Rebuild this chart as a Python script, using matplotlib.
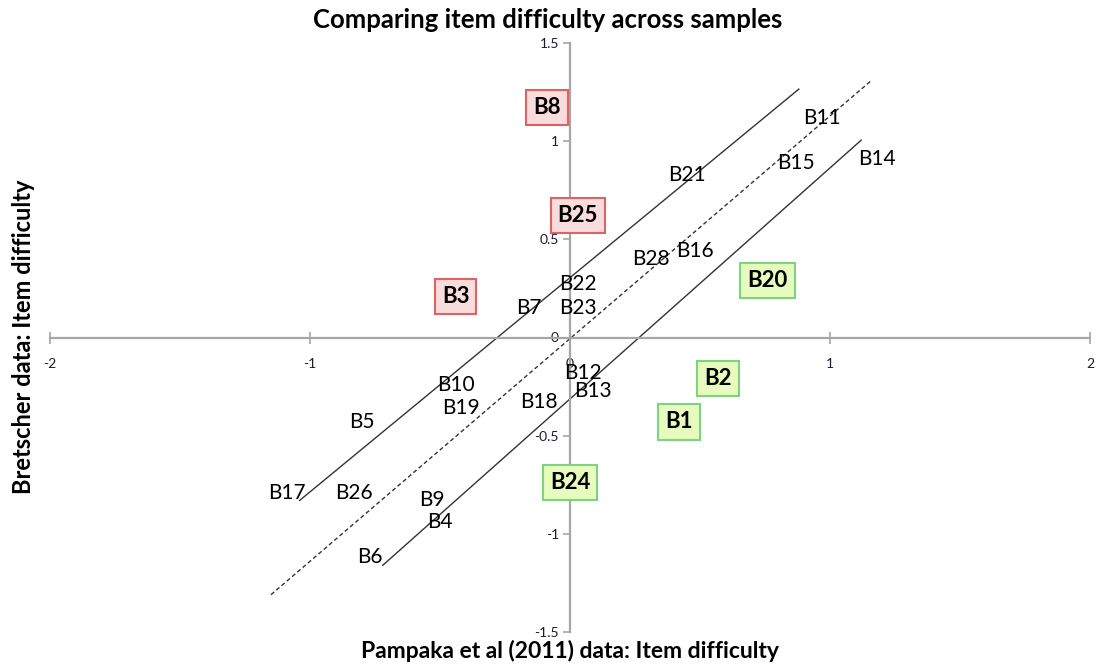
import matplotlib
matplotlib.use("Agg")
import matplotlib.pyplot as plt

plt.rcParams['font.family'] = ['Lato', 'DejaVu Sans']

# Item difficulty estimates: (Pampaka et al 2011, Bretscher)
items = ["B8", "B25", "B3", "B22", "B23", "B7", "B21", "B28", "B16", "B11",
         "B15", "B14", "B20", "B2", "B1", "B24", "B12", "B13", "B18", "B10",
         "B19", "B5", "B17", "B26", "B9", "B4", "B6"]
pampaka = [-0.09, 0.03, -0.44, 0.03, 0.03, -0.16, 0.45, 0.31, 0.48, 0.97,
           0.87, 1.18, 0.76, 0.57, 0.42, 0.00, 0.05, 0.09, -0.12, -0.44,
           -0.42, -0.80, -1.09, -0.83, -0.53, -0.50, -0.77]
bretscher = [1.17, 0.62, 0.21, 0.27, 0.15, 0.15, 0.83, 0.40, 0.44, 1.12,
             0.89, 0.91, 0.29, -0.21, -0.43, -0.74, -0.18, -0.27, -0.33, -0.24,
             -0.36, -0.43, -0.79, -0.79, -0.83, -0.94, -1.12]

# Items that are harder / easier for the Bretscher sample
harder = ["B8", "B25", "B3"]
easier = ["B20", "B2", "B1", "B24"]

# Reference line and band limits
ref_x = [-1.15, 1.16]
ref_y = [-1.31, 1.31]
upper_x = [-1.04, 0.88]
upper_y = [-0.83, 1.265]
lower_x = [-0.72, 1.12]
lower_y = [-1.16, 1.005]

fig = plt.figure(figsize=(11.04, 6.70), dpi=100)
W, H = 1104, 670
ax = fig.add_axes([50 / W, (H - 632) / H, 1040 / W, 589 / H])
ax.set_xlim(-2, 2)
ax.set_ylim(-1.5, 1.5)

axis_col = "#a6a6a6"
for side in ("top", "right"):
    ax.spines[side].set_visible(False)
for side in ("left", "bottom"):
    ax.spines[side].set_position(("data", 0))
    ax.spines[side].set_color(axis_col)
    ax.spines[side].set_linewidth(1.6)

ax.set_xticks([-2, -1, 0, 1, 2])
ax.set_xticklabels(["-2", "-1", "0", "1", "2"])
ax.set_yticks([-1.5, -1, -0.5, 0, 0.5, 1, 1.5])
ax.set_yticklabels(["-1.5", "-1", "-0.5", "0", "0.5", "1", "1.5"])
ax.tick_params(axis="x", direction="inout", length=8, width=1.2, color=axis_col,
               labelsize=10, labelcolor="#1a1a2e", pad=11)
ax.tick_params(axis="y", direction="out", length=5, width=1.2, color=axis_col,
               labelsize=10, labelcolor="#1a1a2e", pad=3)

ax.plot(ref_x, ref_y, color="#333333", lw=1.0, ls=(0, (3, 2)), zorder=2)
ax.plot(upper_x, upper_y, color="#333333", lw=1.0, zorder=2)
ax.plot(lower_x, lower_y, color="#333333", lw=1.0, zorder=2)

for name, x, y in zip(items, pampaka, bretscher):
    if name in harder:
        ax.text(x, y, name, ha="center", va="center", fontsize=16, fontweight="bold",
                color="black", zorder=4,
                bbox=dict(boxstyle="square,pad=0.32", fc="#f9dcdc", ec="#df6262", lw=1.5))
    elif name in easier:
        ax.text(x, y, name, ha="center", va="center", fontsize=16, fontweight="bold",
                color="black", zorder=4,
                bbox=dict(boxstyle="square,pad=0.32", fc="#e6fbbd", ec="#7fd27f", lw=1.5))
    else:
        ax.text(x, y, name, ha="center", va="center", fontsize=15,
                color="black", zorder=4)

fig.text(548 / W, 1 - 20 / H, "Comparing item difficulty across samples",
         ha="center", va="center", fontsize=18.5, fontweight="bold")
fig.text(570 / W, 1 - 651 / H, "Pampaka et al (2011) data: Item difficulty",
         ha="center", va="center", fontsize=16.5, fontweight="bold")
fig.text(24 / W, 1 - 337 / H, "Bretscher data: Item difficulty",
         ha="center", va="center", rotation=90, fontsize=17, fontweight="bold")

fig.savefig("out.png", dpi=100)
